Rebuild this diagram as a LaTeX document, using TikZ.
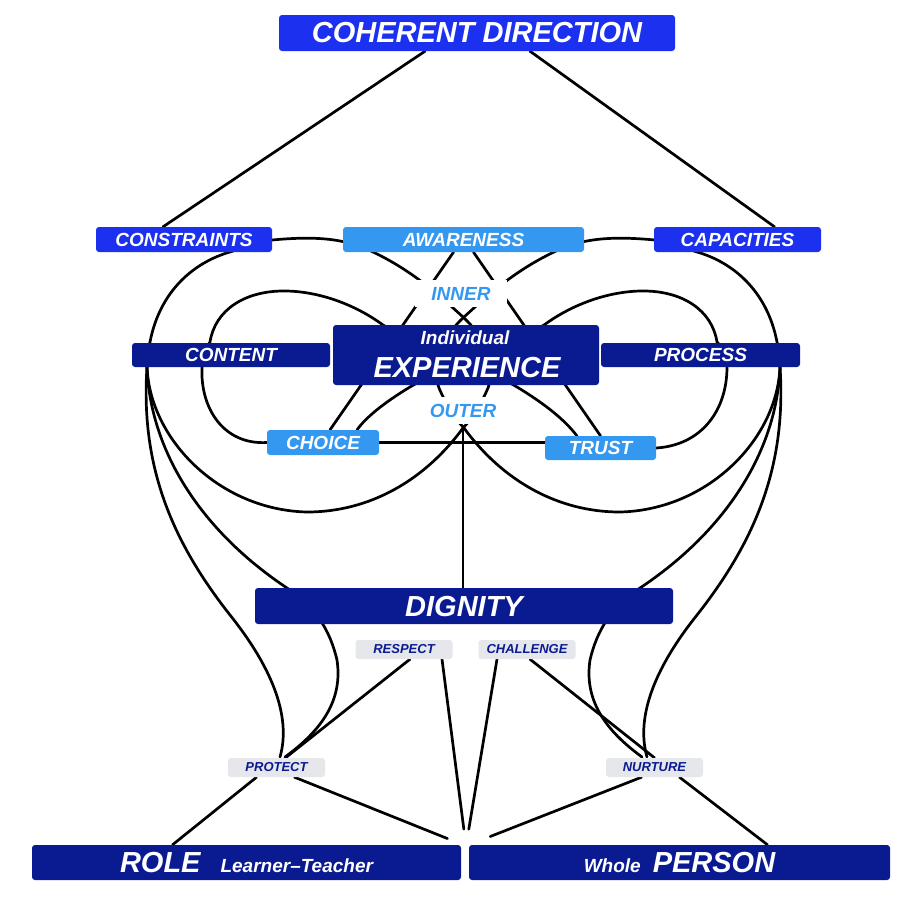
\documentclass[tikz,border=0pt]{standalone}
\usepackage{fontspec}
\setmainfont{Liberation Sans}
\usepackage{tikz}
\usetikzlibrary{calc,backgrounds}

\definecolor{cbright}{RGB}{28,48,240}
\definecolor{clight}{RGB}{52,152,240}
\definecolor{cnavy}{RGB}{10,26,145}
\definecolor{cgray}{RGB}{230,231,235}

\begin{document}
\begin{tikzpicture}[x=1pt,y=-1pt,
			box/.style={rounded corners=3pt,inner sep=0pt,text=white},
			bigbox/.style={box,font=\fontsize{29}{32}\selectfont\bfseries\itshape},
			midbox/.style={box,font=\fontsize{19}{21}\selectfont\bfseries\itshape},
			tagbox/.style={rounded corners=3pt,inner sep=0pt,fill=cgray,text=cnavy,
				minimum width=97pt,minimum height=19pt,
				font=\fontsize{13}{14}\selectfont\bfseries\itshape},
			looplabel/.style={fill=white,text=clight,inner xsep=16pt,inner ysep=7pt,
				font=\fontsize{19}{21}\selectfont\bfseries\itshape},
			strand/.style={line width=2.7pt,line cap=round,line join=round},
			]
			\useasboundingbox (0,0) rectangle (907,903);
			
			% top row
			\node[bigbox,fill=cbright,minimum width=396pt,minimum height=36pt] (coh) at (477,33) {COHERENT DIRECTION};
			\node[midbox,fill=cbright,minimum width=176pt,minimum height=25pt] (cons) at (184,239.5) {CONSTRAINTS};
			\node[midbox,fill=clight,minimum width=241pt,minimum height=25pt] (aware) at (463.5,239.5) {AWARENESS};
			\node[midbox,fill=cbright,minimum width=167pt,minimum height=25pt] (capa) at (737.5,239.5) {CAPACITIES};
			
			% middle row
			\node[midbox,fill=cnavy,minimum width=198pt,minimum height=24pt] (content) at (231,355) {CONTENT};
			\node[box,fill=cnavy,minimum width=266pt,minimum height=60pt] (exper) at (466,355) {};
			\node[text=white,font=\fontsize{19}{21}\selectfont\bfseries\itshape] (indiv) at (465,338) {Individual};
			\node[text=white,font=\fontsize{29}{32}\selectfont\bfseries\itshape] (expertext) at (467,368) {EXPERIENCE};
			\node[midbox,fill=cnavy,minimum width=199pt,minimum height=24pt] (process) at (700.5,355) {PROCESS};
			\node[looplabel] (inner) at (461,293.5) {INNER};
			\node[looplabel,inner xsep=4pt] (outer) at (463,410.5) {OUTER};
			\node[midbox,fill=clight,minimum width=112pt,minimum height=25pt] (choice) at (323,442.5) {CHOICE};
			\node[midbox,fill=clight,minimum width=111pt,minimum height=24pt] (trust) at (600.5,448) {TRUST};
			
			% lower part
			\node[bigbox,fill=cnavy,minimum width=418pt,minimum height=36pt] (dignity) at (464,606) {DIGNITY};
			\node[tagbox] (respect) at (404,649.5) {RESPECT};
			\node[tagbox] (challenge) at (527,649.5) {CHALLENGE};
			\node[tagbox] (protect) at (276.5,767.5) {PROTECT};
			\node[tagbox] (nurture) at (654.5,767.5) {NURTURE};
			\node[bigbox,fill=cnavy,minimum width=429pt,minimum height=35pt] (role) at (246.5,862.5)
			{ROLE\hspace{20pt}{\fontsize{19}{21}\selectfont Learner--Teacher}};
			\node[bigbox,fill=cnavy,minimum width=421pt,minimum height=35pt] (person) at (679.5,862.5)
			{{\fontsize{19}{21}\selectfont Whole}\hspace{12pt}PERSON};
			
			\coordinate (apex) at (463,428);
			\coordinate (meet) at (466,846);
			
			% one outer lobe with its two fans (drawn again mirrored)
			\def\halfstrands{%
				\draw[strand] (272,240) .. controls (315,236) and (345,238) .. (373,252)
				.. controls (413,271) and (440,296) .. (463,317)
				.. controls (484,336) and (497,365) .. (488,388)
				.. controls (482,402) and (473,418) .. (463,428)
				.. controls (425,480) and (370,512) .. (307,512)
				.. controls (220,510) and (150,440) .. (147,367)
				.. controls (147,357) and (148,350) .. (150,342)
				.. controls (160,290) and (195,262) .. (230,252)
				.. controls (245,247) and (258,242) .. (272,240);
				\draw[strand] (147,367) .. controls (150,450) and (200,530) .. (287,588)
				.. controls (315,606) and (330,630) .. (337,660)
				.. controls (343,700) and (322,730) .. (285,757);
				\draw[strand] (147,367) .. controls (140,470) and (175,545) .. (230,615)
				.. controls (270,665) and (292,715) .. (280,757);
			}
			
			\begin{scope}[on background layer]
				\fill[white] (0,0) rectangle (907,903);
				
				% from the top
				\draw[strand] ($(coh.south)+(-52,0)$) -- ($(cons.north)+(-21,0)$);
				\draw[strand] ($(coh.south)+(53,0)$) -- ($(capa.north)+(37,0)$);
				
				% outer lobes
				\halfstrands
				\begin{scope}[xshift=927pt,xscale=-1]
					\halfstrands
				\end{scope}
				
				% inner figure eight
				\draw[strand] (choice.west) .. controls (225,445) and (200,410) .. (202,367)
				.. controls (203,355) and (205,348) .. (210,342)
				.. controls (215,310) and (245,290) .. (287,291)
				.. controls (325,292) and (360,308) .. (383,325)
				.. controls (430,350) and (480,365) .. (517,387)
				.. controls (545,404) and (565,420) .. (577,436);
				\draw[strand] (trust.east) .. controls (702,445) and (727,410) .. (727,367)
				.. controls (726,355) and (723,348) .. (717,342)
				.. controls (712,310) and (682,290) .. (640,291)
				.. controls (602,292) and (567,308) .. (544,325)
				.. controls (497,350) and (447,365) .. (410,387)
				.. controls (385,402) and (365,418) .. (357,430);
				
				% straight ties
				\draw[strand] ($(aware.south)+(-10,0)$) -- ($(choice.north)+(7,0)$);
				\draw[strand] ($(aware.south)+(10,0)$) -- (trust.north);
				\draw[strand] (choice.east) -- (choice.east -| trust.west);
				\draw[strand] (apex) -- (apex |- dignity.north);
				
				% bottom
				\draw[strand] ($(respect.south)+(6,0)$) -- ($(protect.north)+(9,0)$);
				\draw[strand,shorten >=17pt] ($(respect.south)+(38,0)$) -- (meet);
				\draw[strand,shorten >=17pt] ($(challenge.south)+(-30,0)$) -- (meet);
				\draw[strand] ($(challenge.south)+(3,0)$) -- (nurture.north);
				\draw[strand] ($(protect.south)+(-20,0)$) -- ($(role.north)+(-74,0)$);
				\draw[strand,shorten >=20pt] ($(protect.south)+(18,0)$) -- (meet);
				\draw[strand,shorten >=26pt] ($(nurture.south)+(-13,0)$) -- (meet);
				\draw[strand] ($(nurture.south)+(25,0)$) -- ($(person.north)+(88,0)$);
			\end{scope}
		\end{tikzpicture}
\end{document}
